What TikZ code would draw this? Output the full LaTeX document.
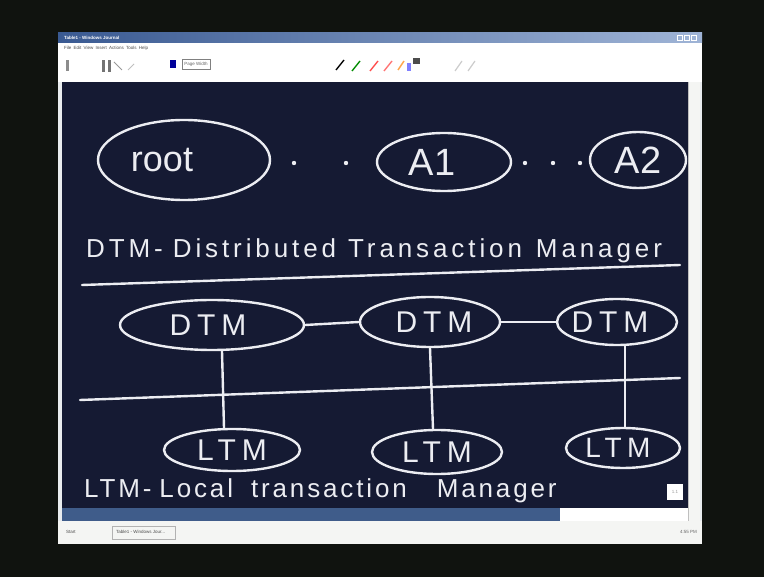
\documentclass[tikz,border=0pt]{standalone}
\usepackage{fontspec}
\setmainfont{Liberation Sans}
\newfontfamily\hand{Liberation Sans}
\newfontfamily\handwide{Liberation Sans}[LetterSpace=20]
\newfontfamily\handline{Liberation Sans}[LetterSpace=15]
\newfontfamily\handlow{Liberation Sans}[LetterSpace=11]
\usetikzlibrary{shapes.geometric}
\definecolor{room}{HTML}{10130F}
\definecolor{winface}{HTML}{E9ECEF}
\definecolor{titleA}{HTML}{3A5A92}
\definecolor{titleB}{HTML}{9FB4D6}
\definecolor{board}{HTML}{151A33}
\definecolor{ink}{HTML}{ECEDF2}
\definecolor{strip}{HTML}{3F5C8A}
\definecolor{barface}{HTML}{F4F5F3}
% a label that does not widen its ellipse; #1 moves it sideways
\newcommand\inked[2]{\makebox[0pt]{\hspace*{#1}#2}}
\tikzset{
  pen/.style={draw=ink, line width=2.4pt, line cap=round, line join=round},
  blob/.style={ellipse, pen, inner sep=0pt, text=ink, font=\handwide\fontsize{30}{30}\selectfont},
  note/.style={text=ink, inner sep=0pt},
  chrome/.style={font=\fontsize{4.5}{5}\selectfont, inner sep=0pt},
}
\begin{document}
\begin{tikzpicture}[x=1pt,y=-1pt]
\useasboundingbox (0,0) rectangle (764,577);
\fill[room] (0,0) rectangle (764,577);

% application window
\fill[winface] (58,33) rectangle (702,544);
\shade[left color=titleA, right color=titleB] (58,33) rectangle (702,43);
\node[chrome, anchor=west, text=white, font=\bfseries\fontsize{4.5}{5}\selectfont] (title) at (64,38) {Table1 - Windows Journal};
\foreach \bx in {680,687,694} \draw[white, line width=0.5pt] (\bx-2.5,35.5) rectangle (\bx+2.5,40.5);
\fill[white] (58,43) rectangle (702,82);
\node[chrome, anchor=west, text=black!70] (menu) at (64,48) {File\enspace Edit\enspace View\enspace Insert\enspace Actions\enspace Tools\enspace Help};

% toolbar icons
\fill[black!45] (66,60) rectangle (69,71);
\fill[black!55] (102,60) rectangle (105,72);
\fill[black!55] (108,60) rectangle (111,72);
\draw[black!40, line width=0.8pt] (114,62) -- (122,70);
\draw[black!25, line width=0.8pt] (128,70) -- (134,64);
\fill[blue!60!black] (170,60) rectangle (176,68);
\draw[black!50, line width=0.5pt] (182,59) rectangle (210,69);
\node[chrome, text=black!60] (zoomtxt) at (196,64) {Page Width};
\draw[black, line width=1.4pt] (336,70) -- (344,60);
\draw[green!55!black, line width=1.4pt] (352,71) -- (360,61);
\draw[red!70, line width=1.4pt] (370,71) -- (378,61);
\draw[red!55, line width=1.4pt] (384,71) -- (392,61);
\draw[orange!70, line width=1.4pt] (398,70) -- (404,61);
\fill[blue!50] (407,63) rectangle (411,71);
\fill[black!70] (413,58) rectangle (420,64);
\draw[black!20, line width=1.2pt] (455,71) -- (462,61);
\draw[black!20, line width=1.2pt] (468,71) -- (475,61);

% writing surface, scroll bar and page strip
\fill[board] (62,82) rectangle (688,508);
\fill[barface] (688,82) rectangle (700,521);
\draw[black!25, line width=0.5pt] (688,82) -- (688,521);
\fill[strip] (62,508) rectangle (560,521);
\fill[white] (560,508) rectangle (688,521);
\fill[white] (667,484) rectangle (683,500);
\node[chrome, text=black!40] (pg) at (675,492) {1.1};

% task bar
\fill[barface] (58,521) rectangle (702,544);
\node[chrome, anchor=west, text=black!70] (start) at (66,532) {Start};
\draw[black!30, line width=0.5pt] (112,526) rectangle (175,539);
\node[chrome, anchor=west, text=black!70] (task) at (116,532) {Table1 - Windows Jour...};
\node[chrome, anchor=east, text=black!60] (clock) at (697,532) {4:55 PM};

% top row: root and its children
\node[blob, minimum width=172, minimum height=80, font=\hand\fontsize{36}{36}\selectfont] (root) at (184,160) {\inked{-44pt}{root}};
\node[blob, minimum width=134, minimum height=58, font=\hand\fontsize{38}{38}\selectfont] (a1) at (444,162) {\inked{-24pt}{A1}};
\node[blob, minimum width=96, minimum height=56, font=\hand\fontsize{38}{38}\selectfont] (a2) at (638,160) {\inked{0pt}{A2}};
\foreach \px in {294,346,525,553,580} \fill[ink] (\px,163) circle (2.2);

\node[note, anchor=base west, font=\handline\fontsize{26}{26}\selectfont] (dtmdef) at (86,258)
  {DTM-\hspace{10pt}Distributed\hspace{12pt}Transaction\hspace{14pt}Manager};
\draw[pen] (82,285) -- (680,265);

% distributed transaction managers
\node[blob, minimum width=184, minimum height=50] (d1) at (212,325) {\inked{-8pt}{DTM}};
\node[blob, minimum width=140, minimum height=50] (d2) at (430,322) {\inked{8pt}{DTM}};
\node[blob, minimum width=120, minimum height=46] (d3) at (617,322) {\inked{-14pt}{DTM}};
\draw[pen] (d1.east) -- (d2.west);
\draw[pen] (d2.east) -- (d3.west);

\draw[pen] (80,400) -- (680,378);

% local transaction managers
\node[blob, minimum width=136, minimum height=42] (l1) at (232,450) {\inked{0pt}{LTM}};
\node[blob, minimum width=130, minimum height=44] (l2) at (437,452) {\inked{0pt}{LTM}};
\node[blob, minimum width=114, minimum height=40, font=\handwide\fontsize{28}{28}\selectfont] (l3) at (623,448) {\inked{-10pt}{LTM}};
\draw[pen] ([xshift=10pt]d1.south) -- ([xshift=-8pt]l1.north);
\draw[pen] (d2.south) -- ([xshift=-4pt]l2.north);
\draw[pen] ([xshift=8pt]d3.south) -- ([xshift=2pt]l3.north);

\node[note, anchor=base west, font=\handlow\fontsize{26}{26}\selectfont] (ltmdef) at (84,498)
  {LTM-\hspace{8pt}Local\hspace{18pt}transaction\hspace{30pt}Manager};
\end{tikzpicture}
\end{document}
